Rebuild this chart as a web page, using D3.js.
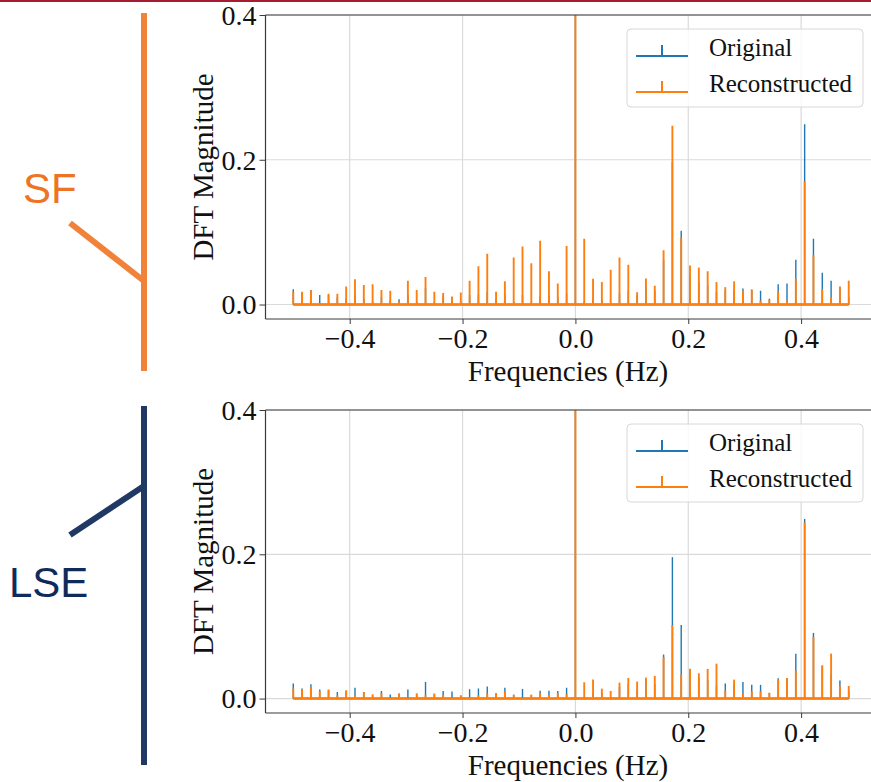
<!DOCTYPE html>
<html>
<head>
<meta charset="utf-8">
<script src="https://cdn.jsdelivr.net/npm/d3@7"></script>
<style>
  body { margin: 0; background: #fff; }
  svg { display: block; }
</style>
</head>
<body>
<div id="chart"></div>
<script>
// DFT bin frequencies (Hz), N = 64
var freqs = [-0.5, -0.484375, -0.46875, -0.453125, -0.4375, -0.421875, -0.40625, -0.390625,
  -0.375, -0.359375, -0.34375, -0.328125, -0.3125, -0.296875, -0.28125, -0.265625,
  -0.25, -0.234375, -0.21875, -0.203125, -0.1875, -0.171875, -0.15625, -0.140625,
  -0.125, -0.109375, -0.09375, -0.078125, -0.0625, -0.046875, -0.03125, -0.015625,
  0, 0.015625, 0.03125, 0.046875, 0.0625, 0.078125, 0.09375, 0.109375,
  0.125, 0.140625, 0.15625, 0.171875, 0.1875, 0.203125, 0.21875, 0.234375,
  0.25, 0.265625, 0.28125, 0.296875, 0.3125, 0.328125, 0.34375, 0.359375,
  0.375, 0.390625, 0.40625, 0.421875, 0.4375, 0.453125, 0.46875, 0.484375];

// SF panel
var sfOriginal = [0.021, 0.016, 0.020, 0.013, 0.013, 0.010, 0.009, 0.014,
  0.008, 0.003, 0.010, 0.006, 0.0074, 0.013, 0.004, 0.023,
  0.003, 0.011, 0.010, 0.003, 0.013, 0.014, 0.017, 0.008,
  0.014, 0.004, 0.013, 0.003, 0.012, 0.012, 0.010, 0.015,
  0.5, 0.004, 0.007, 0.007, 0.002, 0.015, 0.019, 0.0125,
  0.025, 0.019, 0.061, 0.197, 0.102, 0.040, 0.030, 0.026,
  0.017, 0.020, 0.019, 0.022, 0.020, 0.019, 0.008, 0.028,
  0.029, 0.062, 0.249, 0.091, 0.044, 0.033, 0.024, 0.010];
var sfReconstructed = [0.0175, 0.0175, 0.0198, 0.002, 0.015, 0.015, 0.025, 0.035,
  0.027, 0.028, 0.020, 0.019, 0.0046, 0.033, 0.020, 0.038,
  0.0175, 0.016, 0.011, 0.0166, 0.033, 0.053, 0.070, 0.0175,
  0.032, 0.065, 0.080, 0.057, 0.088, 0.046, 0.029, 0.081,
  0.5, 0.091, 0.0355, 0.031, 0.048, 0.065, 0.055, 0.017,
  0.036, 0.026, 0.075, 0.247, 0.092, 0.054, 0.051, 0.046,
  0.031, 0.024, 0.032, 0.019, 0.021, 0.0055, 0.0065, 0.018,
  0.0055, 0.0355, 0.170, 0.068, 0.021, 0.010, 0.025, 0.033];

// LSE panel
var lseOriginal = [0.021, 0.014, 0.020, 0.0125, 0.012, 0.009, 0.010, 0.015,
  0.009, 0.004, 0.0106, 0.0055, 0.006, 0.0125, 0.005, 0.023,
  0.005, 0.0106, 0.0097, 0.004, 0.013, 0.014, 0.0166, 0.007,
  0.015, 0.0055, 0.0134, 0.005, 0.011, 0.011, 0.0106, 0.015,
  0.5, 0.001, 0.007, 0.008, 0.001, 0.016, 0.020, 0.0125,
  0.025, 0.020, 0.061, 0.196, 0.102, 0.040, 0.0295, 0.026,
  0.018, 0.021, 0.020, 0.023, 0.019, 0.019, 0.008, 0.028,
  0.028, 0.062, 0.249, 0.091, 0.045, 0.033, 0.025, 0.0115];
var lseReconstructed = [0.014, 0.0125, 0.016, 0.0106, 0.0125, 0.0046, 0.0115, 0.0046,
  0.0092, 0.006, 0.0078, 0.001, 0.0074, 0.001, 0.0074, 0.0046,
  0.0069, 0.0046, 0.001, 0.0046, 0.002, 0.0046, 0.0069, 0.0078,
  0.0097, 0.005, 0.001, 0.0055, 0.0078, 0.0051, 0.0078, 0.006,
  0.5, 0.0226, 0.0263, 0.0138, 0.0106, 0.0221, 0.0286, 0.0235,
  0.0291, 0.0314, 0.0577, 0.102, 0.0332, 0.0415, 0.0351, 0.0411,
  0.0484, 0.0111, 0.0263, 0.0065, 0.0101, 0.0101, 0.0078, 0.0263,
  0.0286, 0.0388, 0.2441, 0.0854, 0.0461, 0.0623, 0.0171, 0.0175];

var xTicks = [-0.4, -0.2, 0.0, 0.2, 0.4];
var yTicks = [0.0, 0.2, 0.4];
var seriesNames = ['Original', 'Reconstructed'];
var seriesColors = ['#1f77b4', '#ff7f0e'];
var stemWidths = [1.4, 1.9];

var width = 871, height = 782;
var serif = '"Liberation Serif", "Times New Roman", serif';
var fmt = function(v) { return d3.format('.1f')(v).replace('-', '\u2212'); };

var svg = d3.select('#chart').append('svg')
  .attr('width', width)
  .attr('height', height)
  .style('background', '#fff');

// thin red bar along the top
svg.append('rect').attr('x', 0).attr('y', 0).attr('width', width).attr('height', 2).attr('fill', '#a51c30');

//left side labels (SF / LSE trees)
var deco = svg.append('g').attr('stroke-width', 6).attr('stroke-linecap', 'butt');
deco.append('line').attr('x1', 144).attr('y1', 13).attr('x2', 144).attr('y2', 371).attr('stroke', '#f0823a');
deco.append('line').attr('x1', 144).attr('y1', 281).attr('x2', 70).attr('y2', 223).attr('stroke', '#f0823a');
deco.append('line').attr('x1', 144).attr('y1', 406).attr('x2', 144).attr('y2', 765).attr('stroke', '#203864');
deco.append('line').attr('x1', 144).attr('y1', 486).attr('x2', 70).attr('y2', 535).attr('stroke', '#203864');

svg.append('text').attr('x', 23).attr('y', 203)
  .attr('font-family', '"Liberation Sans", Arial, sans-serif').attr('font-size', 42)
  .attr('fill', '#ee7425').text('SF');
svg.append('text').attr('x', 9).attr('y', 597)
  .attr('font-family', '"Liberation Sans", Arial, sans-serif').attr('font-size', 42)
  .attr('fill', '#0f2b5c').text('LSE');

var panels = [
  { id: 'sf', top: 15, bottom: 319, series: [sfOriginal, sfReconstructed] },
  { id: 'lse', top: 410, bottom: 713, series: [lseOriginal, lseReconstructed] }
];

var left = 265.5, right = 876.5;

panels.forEach(drawPanel);

function drawPanel(p) {
  var x = d3.scaleLinear().domain([-0.54922, 0.53359]).range([left, right]);
  var y = d3.scaleLinear().domain([-0.02, 0.4]).range([p.bottom, p.top]);

  var g = svg.append('g');

  g.append('clipPath').attr('id', 'clip-' + p.id)
    .append('rect')
    .attr('x', left).attr('y', p.top)
    .attr('width', right - left).attr('height', p.bottom - p.top);

  // grid
  g.append('g').selectAll('line.gx')
    .data(xTicks).enter().append('line')
    .attr('x1', function(d) { return x(d); }).attr('x2', function(d) { return x(d); })
    .attr('y1', p.top).attr('y2', p.bottom)
    .attr('stroke', '#dadada').attr('stroke-width', 1.2);
  g.append('g').selectAll('line.gy')
    .data(yTicks).enter().append('line')
    .attr('x1', left).attr('x2', right)
    .attr('y1', function(d) { return y(d); }).attr('y2', function(d) { return y(d); })
    .attr('stroke', '#dadada').attr('stroke-width', 1.2);

  // stems: original first, reconstructed drawn on top
  var plot = g.append('g').attr('clip-path', 'url(#clip-' + p.id + ')');
  p.series.forEach(function(vals, si) {
    var s = plot.append('g');
    s.selectAll('line')
      .data(vals).enter().append('line')
      .attr('x1', function(d, i) { return x(freqs[i]); })
      .attr('x2', function(d, i) { return x(freqs[i]); })
      .attr('y1', y(0))
      .attr('y2', function(d) { return y(d); })
      .attr('stroke', seriesColors[si])
      .attr('stroke-width', stemWidths[si]);
    s.append('line')
      .attr('x1', x(freqs[0])).attr('x2', x(freqs[freqs.length - 1]))
      .attr('y1', y(0)).attr('y2', y(0))
      .attr('stroke', seriesColors[si]).attr('stroke-width', 2);
  });

  // spines
  var spine = '#3a3a3a';
  g.append('line').attr('x1', left).attr('x2', left).attr('y1', p.top).attr('y2', p.bottom).attr('stroke', spine).attr('stroke-width', 1.2);
  g.append('line').attr('x1', left).attr('x2', right).attr('y1', p.bottom).attr('y2', p.bottom).attr('stroke', spine).attr('stroke-width', 1.2);
  g.append('line').attr('x1', left).attr('x2', right).attr('y1', p.top).attr('y2', p.top).attr('stroke', spine).attr('stroke-width', 1.2);

  // axes
  var xAxis = d3.axisBottom(x).tickValues(xTicks).tickFormat(fmt).tickSize(5).tickPadding(4);
  var yAxis = d3.axisLeft(y).tickValues(yTicks).tickFormat(fmt).tickSize(6).tickPadding(3);

  var gx = g.append('g').attr('transform', 'translate(0,' + p.bottom + ')').call(xAxis);
  var gy = g.append('g').attr('transform', 'translate(' + left + ',0)').call(yAxis);
  [gx, gy].forEach(function(ax) {
    ax.select('.domain').remove();
    ax.selectAll('.tick line').attr('stroke', spine).attr('stroke-width', 1);
    ax.selectAll('.tick text')
      .attr('font-family', serif).attr('font-size', 28).attr('fill', '#111');
  });
  gx.selectAll('.tick text').attr('dy', 0).attr('y', 29);
  gy.selectAll('.tick text').attr('dy', '0.33em');

  g.append('text')
    .attr('x', (left + 876.5 - 5) / 2 - 0.5)
    .attr('y', p.bottom + 62)
    .attr('text-anchor', 'middle')
    .attr('font-family', serif).attr('font-size', 29).attr('fill', '#111')
    .text('Frequencies (Hz)');

  g.append('text')
    .attr('transform', 'translate(213,' + ((p.top + p.bottom) / 2) + ') rotate(-90)')
    .attr('text-anchor', 'middle')
    .attr('font-family', serif).attr('font-size', 29).attr('fill', '#111')
    .text('DFT Magnitude');

  // legend
  var ly = p.top + 14;
  var legend = g.append('g');
  legend.append('rect')
    .attr('x', 627).attr('y', ly).attr('width', 236).attr('height', 78)
    .attr('rx', 4).attr('fill', '#fff').attr('fill-opacity', 0.8)
    .attr('stroke', '#d8d8d8').attr('stroke-width', 1);
  var item = legend.selectAll('g.item')
    .data(seriesNames).enter().append('g')
    .attr('transform', function(d, i) { return 'translate(0,' + (ly + 27 + i * 36) + ')'; });
  item.append('line')
    .attr('x1', 636).attr('x2', 688).attr('y1', 0).attr('y2', 0)
    .attr('stroke', function(d, i) { return seriesColors[i]; }).attr('stroke-width', 2);
  item.append('line')
    .attr('x1', 662).attr('x2', 662).attr('y1', 0).attr('y2', -11)
    .attr('stroke', function(d, i) { return seriesColors[i]; }).attr('stroke-width', 2);
  item.append('text')
    .attr('x', 709).attr('y', 0)
    .attr('font-family', serif).attr('font-size', 25).attr('fill', '#111')
    .text(function(d) { return d; });
}
</script>
</body>
</html>
